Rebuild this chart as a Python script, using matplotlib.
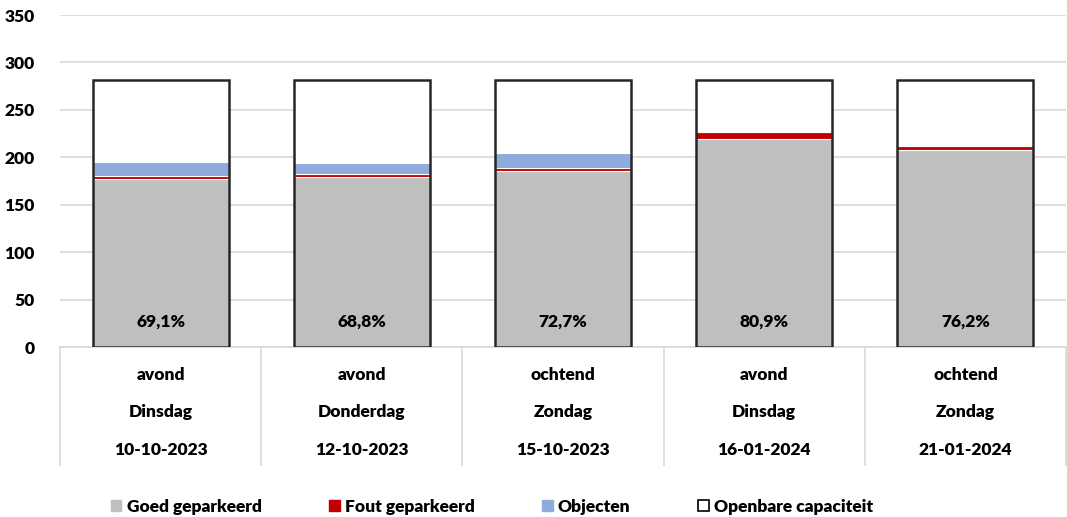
import matplotlib.pyplot as plt
from matplotlib.patches import Patch
import numpy as np

plt.rcParams['font.family'] = ['Lato', 'DejaVu Sans']
plt.rcParams['font.weight'] = 'heavy'

dagdeel = ["avond", "avond", "ochtend", "avond", "ochtend"]
dagen = ["Dinsdag", "Donderdag", "Zondag", "Dinsdag", "Zondag"]
datums = ["10-10-2023", "12-10-2023", "15-10-2023", "16-01-2024", "21-01-2024"]
goed = [177, 179, 186, 219, 208]
fout = [3, 3, 3, 8, 4]
objecten = [15, 12, 16, 0, 0]
capaciteit = [282, 282, 282, 282, 282]
bezetting = ["69,1%", "68,8%", "72,7%", "80,9%", "76,2%"]

c_goed = "#bfbfbf"
c_fout = "#c00000"
c_obj = "#8faadc"
fw = "heavy"

fig = plt.figure(figsize=(10.67, 5.17), dpi=100)
ax = fig.add_axes([60 / 1067, 1 - 347 / 517, 1006 / 1067, 332 / 517])

x = np.arange(len(datums))
w = 0.675
goed = np.array(goed)
fout = np.array(fout)
objecten = np.array(objecten)

ax.bar(x, capaciteit, w, color="white", zorder=1)
ax.bar(x, goed, w, color=c_goed, edgecolor="white", linewidth=0.8, zorder=2)
ax.bar(x, fout, w, bottom=goed, color=c_fout, edgecolor="white", linewidth=0.8, zorder=2)
ax.bar(x, objecten, w, bottom=goed + fout, color=c_obj, edgecolor="white", linewidth=0.8, zorder=2)
ax.bar(x, capaciteit, w, facecolor="none", edgecolor="#262626", linewidth=1.8, zorder=3)

for i, lbl in enumerate(bezetting):
    ax.text(x[i], 27, lbl, ha="center", va="center", fontsize=12.5, fontweight=fw, zorder=4)

ax.set_ylim(0, 350)
ax.set_xlim(-0.5, 4.5)
ax.set_yticks(np.arange(0, 351, 50))
ax.yaxis.grid(True, color="#d9d9d9", linewidth=1.2, zorder=0)
ax.set_axisbelow(True)
ax.tick_params(axis="y", length=0, labelsize=12.5, pad=18)
ax.set_xticks([])
for s in ["top", "right", "left"]:
    ax.spines[s].set_visible(False)
ax.spines["bottom"].set_color("#d9d9d9")
ax.spines["bottom"].set_linewidth(1.2)
for lab in ax.get_yticklabels():
    lab.set_fontweight(fw)

# category table under the axis
trans = ax.get_xaxis_transform()
for i in range(len(datums)):
    ax.text(x[i], -0.0843, dagdeel[i], transform=trans, ha="center", va="center", fontsize=12.5, fontweight=fw)
    ax.text(x[i], -0.196, dagen[i], transform=trans, ha="center", va="center", fontsize=12.5, fontweight=fw)
    ax.text(x[i], -0.31, datums[i], transform=trans, ha="center", va="center", fontsize=12.5, fontweight=fw)
for xs in np.arange(-0.5, 5, 1.0):
    ax.plot([xs, xs], [0, -0.355], transform=trans, color="#d9d9d9", linewidth=1.2, clip_on=False)

handles = [
    Patch(facecolor=c_goed, edgecolor=c_goed),
    Patch(facecolor=c_fout, edgecolor=c_fout),
    Patch(facecolor=c_obj, edgecolor=c_obj),
    Patch(facecolor="white", edgecolor="black", linewidth=1.2),
]
labels = ["Goed geparkeerd", "Fout geparkeerd", "Objecten", "Openbare capaciteit"]
fig.legend(handles, labels, loc="center", bbox_to_anchor=(492 / 1067, 1 - 507 / 517), ncol=4,
           frameon=False, handlelength=0.6, handleheight=0.6, handletextpad=0.3,
           columnspacing=3.9, prop={"size": 12.5, "weight": fw})

fig.savefig("out.png", dpi=100)
